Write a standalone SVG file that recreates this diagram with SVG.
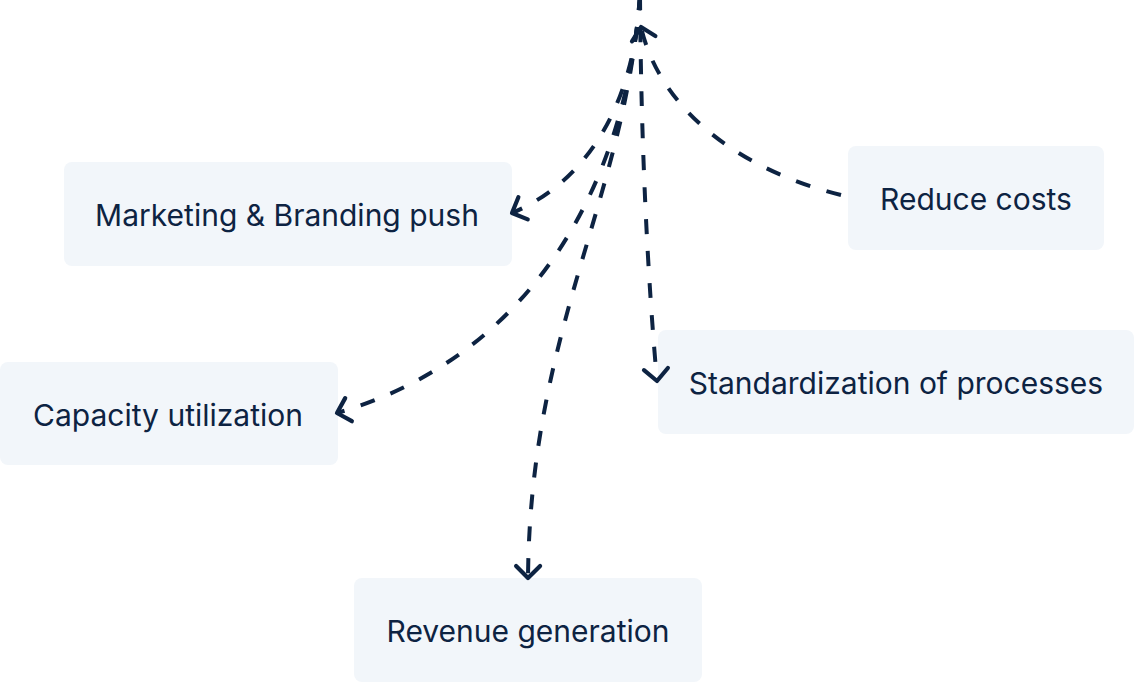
<svg xmlns="http://www.w3.org/2000/svg" width="1134" height="682" viewBox="0 0 1134 682">
  <style>
    .box { fill: #f2f6fa; }
    .label { font-family: Inter, "Noto Sans", "Liberation Sans", sans-serif; font-size: 30px; fill: #0d2342; text-anchor: middle; }
    .conn { fill: none; stroke: #0d2342; stroke-width: 4; stroke-dasharray: 15 17; }
  </style>
  <defs>
    <marker id="arrow" markerUnits="userSpaceOnUse" markerWidth="40" markerHeight="40" viewBox="-20 -20 40 40" refX="0" refY="0" orient="auto">
      <path d="M -12 -12 L 0 0 L -12 12" fill="none" stroke="#0d2342" stroke-width="4.2" stroke-linecap="round" stroke-linejoin="round"/>
    </marker>
  </defs>
  <rect width="1134" height="682" fill="#ffffff"/>

  <g id="node-marketing">
    <rect class="box" x="64" y="162" width="448" height="104" rx="8"/>
    <text class="label" x="287" y="226">Marketing &amp; Branding push</text>
  </g>
  <g id="node-capacity">
    <rect class="box" x="0" y="362" width="338" height="103" rx="8"/>
    <text class="label" x="168" y="426">Capacity utilization</text>
  </g>
  <g id="node-reduce">
    <rect class="box" x="848" y="146" width="256" height="104" rx="8"/>
    <text class="label" x="976" y="210">Reduce costs</text>
  </g>
  <g id="node-standardization">
    <rect class="box" x="658" y="330" width="476" height="104" rx="8"/>
    <text class="label" x="896" y="394">Standardization of processes</text>
  </g>
  <g id="node-revenue">
    <rect class="box" x="354" y="578" width="348" height="104" rx="8"/>
    <text class="label" x="528" y="642">Revenue generation</text>
  </g>

  <g id="connectors">
    <path class="conn" d="M 640 -5 C 635 100, 590 180, 512 213" marker-end="url(#arrow)"/>
    <path class="conn" d="M 640 -5 C 625 200, 520 360, 337 413" marker-end="url(#arrow)"/>
    <path class="conn" d="M 640 -5 C 625 200, 530 330, 528 578" marker-end="url(#arrow)"/>
    <path class="conn" d="M 640 -5 C 641 150, 648 280, 657 381" marker-end="url(#arrow)"/>
    <path class="conn" d="M 841 195 C 740 170, 660 110, 641 27" marker-end="url(#arrow)"/>
  </g>
</svg>
